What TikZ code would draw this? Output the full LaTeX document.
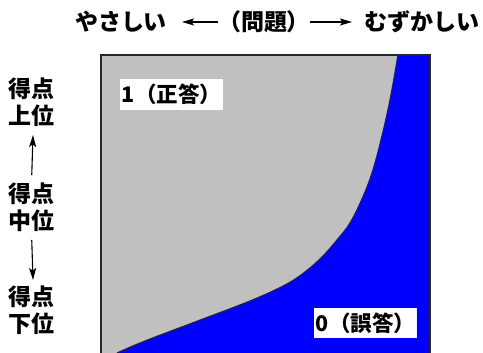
\documentclass[tikz,border=0pt]{standalone}
\usepackage{fontspec}
\newfontfamily\jp{Noto Sans CJK JP}
\usetikzlibrary{arrows.meta}
\tikzset{arr/.style={line width=1.1pt, -{Stealth[length=12pt, width=7pt, inset=2.5pt]}}}
\begin{document}
\begin{tikzpicture}[x=1pt,y=1pt,
  lbl/.style={font=\jp\bfseries\fontsize{23}{26.5}\selectfont, inner sep=0pt, align=center},
  tag/.style={font=\jp\bfseries\fontsize{21.5}{24}\selectfont, fill=white, inner xsep=1.5pt, inner ysep=5pt}]
\useasboundingbox (0,0) rectangle (483,353);
% plot area
\fill[fill={rgb,255:red,192;green,192;blue,192}] (101,0) rectangle (430,298);
\fill[fill={rgb,255:red,0;green,0;blue,255}]
  plot[smooth,tension=0.6] coordinates {(117,0) (145,12) (195,31) (250,52) (285,68) (305,81) (322,96) (337,113) (350,130) (362,154) (372,180) (381,213) (390,253) (398,298)}
  -- (430,298) -- (430,0) -- cycle;
\draw[line width=1.2pt, black!85]
  plot[smooth,tension=0.6] coordinates {(117,0) (145,12) (195,31) (250,52) (285,68) (305,81) (322,96) (337,113) (350,130) (362,154) (372,180) (381,213) (390,253) (398,298)};
\draw[line width=1.8pt, black!85] (101,0) -- (101,298) -- (430,298) -- (430,0);
% tags
\node[tag] (ok) at (171.5,258.5) {1（正答）};
\node[tag] (ng) at (365.5,30) {0（誤答）};
% title
\node[lbl] (easy) at (121,331) {やさしい};
\node[lbl] (prob) at (264,331) {（問題）};
\node[lbl] (hard) at (422,331) {むずかしい};
\coordinate (eL) at (182,331);
\coordinate (eR) at (352,331);
\coordinate (uT) at (33,218);
\coordinate (dB) at (33,73);
\draw[arr] (prob.west) -- (eL);
\draw[arr] (prob.east) -- (eR);
% left
\node[lbl] (top) at (31.5,251) {得点\\上位};
\node[lbl] (mid) at (31.5,145.5) {得点\\中位};
\node[lbl] (bot) at (31.5,43) {得点\\下位};
\draw[arr, shorten <=8pt] (mid.north) -- (uT);
\draw[arr, shorten <=8pt] (mid.south) -- (dB);
\end{tikzpicture}
\end{document}
